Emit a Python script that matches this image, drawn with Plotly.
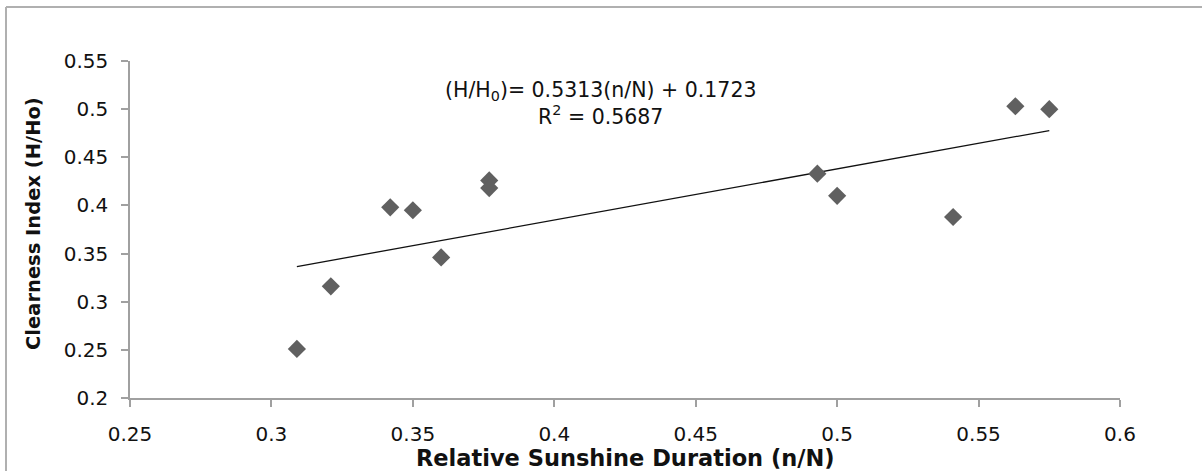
import plotly.graph_objects as go

# Data
sunshine = [0.309, 0.321, 0.342, 0.350, 0.360, 0.377, 0.377, 0.493, 0.500, 0.541, 0.563, 0.575]
clearness = [0.251, 0.316, 0.398, 0.395, 0.346, 0.426, 0.418, 0.433, 0.410, 0.388, 0.503, 0.500]
slope = 0.5313
intercept = 0.1723
r_squared = 0.5687
x_ticks = [0.25, 0.3, 0.35, 0.4, 0.45, 0.5, 0.55, 0.6]
y_ticks = [0.2, 0.25, 0.3, 0.35, 0.4, 0.45, 0.5, 0.55]

W, H = 1202, 471
ML, MR, MT, MB = 130, 82, 61, 73
pw, ph = W - ML - MR, H - MT - MB

def px_x(p):
    return (p - ML) / pw

def px_y(p):
    return (H - MB - p) / ph

x_line = [min(sunshine), max(sunshine)]
y_line = [slope * v + intercept for v in x_line]

FONT = "DejaVu Sans"
fig = go.Figure()
fig.add_trace(go.Scatter(
    x=x_line, y=y_line, mode="lines",
    line=dict(color="#111111", width=1.3), showlegend=False, hoverinfo="skip"))
fig.add_trace(go.Scatter(
    x=sunshine, y=clearness, mode="markers",
    marker=dict(symbol="diamond", size=14, color="#606060", line=dict(width=0)),
    showlegend=False))

axis_common = dict(
    showgrid=False, zeroline=False, showline=True, linecolor="#a0a0a0", linewidth=1.5,
    ticks="outside", ticklen=7, tickcolor="#a0a0a0", tickwidth=1.5,
    tickfont=dict(family=FONT, size=20, color="#111111"),
)
fig.update_xaxes(range=[0.25, 0.6], tickvals=x_ticks, ticktext=[f"{v:g}" for v in x_ticks],
                 ticklabelstandoff=10, **axis_common)
fig.update_yaxes(range=[0.2, 0.55], tickvals=y_ticks, ticktext=[f"{v:g}" for v in y_ticks],
                 ticklabelstandoff=9, **axis_common)

annotations = [
    dict(text=f"(H/H<sub>0</sub>)= {slope:.4f}(n/N) + {intercept:.4f}<br>R<sup>2</sup> = {r_squared:.4f}",
         xref="paper", yref="paper", x=px_x(600), y=px_y(104), xanchor="center", yanchor="middle",
         showarrow=False, align="center", font=dict(family=FONT, size=20.5, color="#111111")),
    dict(text="<b>Relative Sunshine Duration (n/N)</b>", xref="paper", yref="paper",
         x=px_x(625.5), y=px_y(458), xanchor="center", yanchor="middle", showarrow=False,
         font=dict(family=FONT, size=22.5, color="#111111")),
    dict(text="<b>Clearness Index (H/Ho)</b>", xref="paper", yref="paper",
         x=px_x(33), y=px_y(224), xanchor="center", yanchor="middle", showarrow=False,
         textangle=-90, font=dict(family=FONT, size=19.5, color="#111111")),
]

shapes = [
    dict(type="line", xref="paper", yref="paper", x0=px_x(6), x1=px_x(1210), y0=px_y(7), y1=px_y(7),
         line=dict(color="#b0b0b0", width=2)),
    dict(type="line", xref="paper", yref="paper", x0=px_x(6), x1=px_x(6), y0=px_y(7), y1=px_y(480),
         line=dict(color="#b0b0b0", width=2)),
]

fig.update_layout(
    width=W, height=H, margin=dict(l=ML, r=MR, t=MT, b=MB, autoexpand=False),
    paper_bgcolor="white", plot_bgcolor="white",
    annotations=annotations, shapes=shapes, showlegend=False,
)

fig.write_html("out.html", config={"displayModeBar": False},
               post_script="document.body.style.margin='0';document.body.style.overflow='hidden';")
